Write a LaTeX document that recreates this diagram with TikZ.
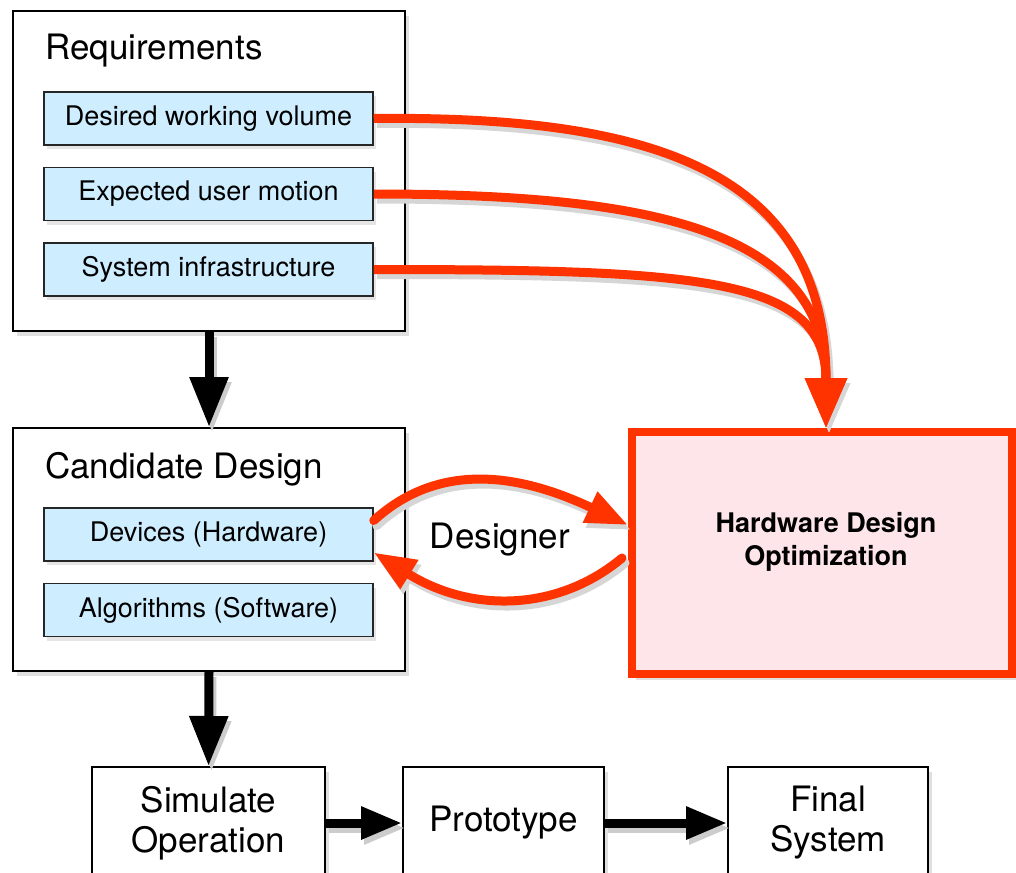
\documentclass[tikz,border=0pt]{standalone}
\usepackage{fontspec}
\setmainfont{TeX Gyre Heros}
\usetikzlibrary{arrows.meta,shadows,calc}
\definecolor{hred}{RGB}{255,51,0}
\definecolor{lblue}{RGB}{206,238,255}
\definecolor{lpink}{RGB}{253,229,233}
\newcommand{\bigfont}{\fontsize{35}{40}\selectfont}
\newcommand{\smallfont}{\fontsize{27}{32}\selectfont}
\begin{document}
\begin{tikzpicture}[x=1pt,y=-1pt,
  bigbox/.style={draw=black, line width=2pt, fill=white, inner sep=0pt,
    drop shadow={shadow xshift=4pt, shadow yshift=-5pt, opacity=0.25}},
  subbox/.style={draw=black!85, line width=1.5pt, fill=lblue, inner sep=0pt,
    minimum width=329pt, minimum height=53pt, font=\smallfont,
    drop shadow={shadow xshift=3pt, shadow yshift=-4pt, opacity=0.2}},
  hdobox/.style={draw=hred, line width=8pt, fill=lpink, inner sep=0pt,
    minimum width=380pt, minimum height=242pt,
    drop shadow={shadow xshift=4pt, shadow yshift=-6pt, opacity=0.25}},
  stagebox/.style={bigbox, minimum height=112pt, anchor=north, align=center,
    font=\bigfont},
  titletext/.style={font=\bigfont, inner sep=0pt, anchor=base west},
  redarr/.style={draw=hred, line width=9pt, -{Triangle[length=50pt,width=40pt]}},
  redarrsm/.style={draw=hred, line width=9pt, line cap=round,
    -{Triangle[length=42pt,width=32pt]}},
  blkarrv/.style={draw=black, line width=9pt, -{Triangle[length=50pt,width=37pt]}},
  blkarrh/.style={draw=black, line width=9pt, -{Triangle[length=41pt,width=31pt]}},
]
\fill[white] (0,0) rectangle (1016,872);
\clip (0,0) rectangle (1016,872);

% Requirements
\node[bigbox, minimum width=392pt, minimum height=320pt, anchor=north west] (req) at (12,10) {};
\node[titletext] (reqt) at (45,60) {Requirements};
\node[subbox] (r1) at (208.5,118.5) {Desired working volume};
\node[subbox] (r2) at (208.5,194) {Expected user motion};
\node[subbox] (r3) at (208.5,269.5) {System infrastructure};

% Candidate design
\node[bigbox, minimum width=392pt, minimum height=243pt, anchor=north west] (cand) at (12,427) {};
\node[titletext] (candt) at (45,478) {Candidate Design};
\node[subbox] (dev) at (208.5,534.5) {Devices (Hardware)};
\node[subbox] (alg) at (208.5,610) {Algorithms (Software)};

% Hardware design optimization
\node[hdobox] (hdo) at (822,553) {};
\node[font=\bfseries\fontsize{27}{33}\selectfont, align=center] (hdot) at (826,542) {Hardware Design\\Optimization};
\coordinate (hdoin) at ([xshift=4pt]hdo.north);

% Bottom stages
\node[stagebox, minimum width=233pt] (sim) at (208.5,766) {Simulate\\Operation};
\node[stagebox, minimum width=201pt] (proto) at (503.5,766) {Prototype};
\node[stagebox, minimum width=200pt] (final) at (828,766) {Final\\System};

\node[font=\bigfont] (dsg) at (500,540) {Designer};

\newcommand{\allconnectors}{%
  \draw[blkarrv] (req.south) -- (cand.north);
  \draw[blkarrv] (cand.south) -- (sim.north);
  \draw[blkarrh] (sim.east) -- (proto.west);
  \draw[blkarrh] (proto.east) -- (final.west);
  \draw[redarr] (r1.east) .. controls +(277,-3) and +(0,-258) .. (hdoin);
  \draw[redarr] (r2.east) .. controls +(277,0) and +(0,-198) .. (hdoin);
  \draw[redarr] (r3.east) .. controls +(330,0) and +(0,-150) .. (hdoin);
  \draw[redarrsm] ([yshift=14pt]dev.east) .. controls +(55,-50) and +(-127,-60) .. ([yshift=28pt]hdo.west);
  \draw[redarrsm] ([shift={(-6pt,-5pt)}]hdo.west) .. controls +(-62,52) and +(100,62) .. ([yshift=-18pt]dev.east);
}
\begin{scope}[transform canvas={shift={(3pt,-5pt)}},
  redarr/.append style={draw=black!16},
  redarrsm/.append style={draw=black!16},
  blkarrv/.append style={draw=black!20},
  blkarrh/.append style={draw=black!20}]
  \allconnectors
\end{scope}
\allconnectors
\end{tikzpicture}
\end{document}
